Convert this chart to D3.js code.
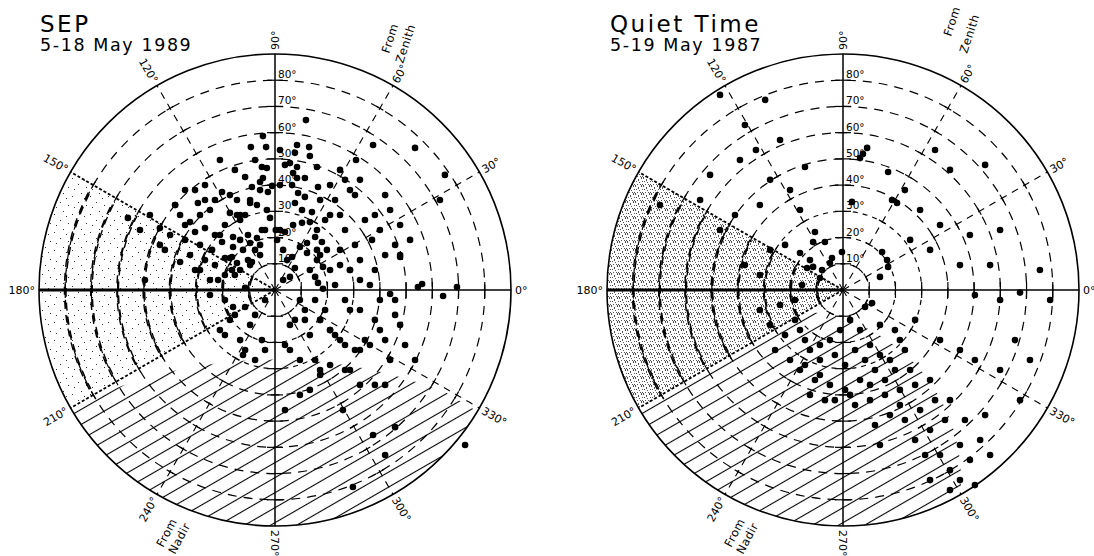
<!DOCTYPE html>
<html><head><meta charset="utf-8">
<script src="https://cdn.jsdelivr.net/npm/d3@7"></script>
<style>body{margin:0;background:#fff}svg{display:block}text{font-family:"DejaVu Sans",sans-serif;fill:#000}</style>
</head><body><svg id="c" width="1094" height="556"></svg>
<script>
// ---- data ----
const ringAngles=[10,20,30,40,50,60,70,80];
const ringLabels=["10°","20°","30°","40°","50°","60°","70°","80°"];
const spokeAngles=[0,30,60,90,120,150,180,210,240,270,300,330];
const spokeLabels=["0°","30°","60°","90°","120°","150°","180°","210°","240°","270°","300°","330°"];
const titles=["SEP","Quiet Time"];
const subtitles=["5-18 May 1989","5-19 May 1987"];
// Earth (nadir) region boundary: circle centre and radius, degree units
const nadirCX=[0,-19.5], nadirCY=[-201,-72.5], nadirR=[174.5,64.6];
// SEP points: projected offsets (deg) east/north of centre
const sepX=[11.8,-4.6,-3.4,-9.2,8.4,7.6,13.0,13.3,-5.0,-3.1,5.7,8.4,16.0,-11.4,-4.6,6.9,8.4,11.4,-1.1,-2.7,-8.8,-5.7,6.5,8.8,11.4,16.4,-14.5,-9.5,-6.9,-3.1,7.6,10.3,14.1,17.2,-17.2,-14.5,-13.3,-1.9,1.9,3.8,6.9,10.3,13.3,16.0,19.1,-16.0,-13.3,-10.3,-6.9,-5.0,0.8,12.2,15.3,17.9,-16.0,-12.2,-9.5,-5.7,3.1,6.5,9.5,12.2,16.0,19.8,-16.4,-14.5,-10.3,-7.6,4.6,7.6,16.0,18.3,-16.4,-13.3,-8.8,3.1,5.7,13.3,15.3,16.4,18.3,-11.4,-16.0,-11.4,
-34.3,-29.4,-24.8,-22.9,-20.2,-36.2,-32.4,-26.7,-22.9,-19.1,-40.0,-34.3,-28.6,-24.0,-20.2,-32.4,-26.7,-22.9,-19.1,-28.6,-24.8,-19.1,-36.2,-42.0,-43.9,-38.1,-47.7,-51.5,-56.1,-24.8,-19.1,-13.3,-12.2,-7.6,-19.1,-3.8,-7.6,-9.5,-5.0,
22.9,24.8,28.6,26.7,30.5,32.4,24.8,34.3,37.0,40.0,32.4,28.6,24.8,38.1,42.0,45.8,43.9,47.7,51.5,45.8,26.7,32.4,38.1,28.6,21.0,34.3,40.0,45.8,47.7,53.4,43.9,32.4,24.8,21.0,17.2,13.3,9.5,17.2,26.7,13.3,9.5,21.0,54.5,56.1,64.1,69.4,47.7,64.8,53.4,37.4,30.9,24.8,21.0,42.0,45.8,37.4,42.0,29.7,25.9,72.5,62.9,
-30.5,-26.7,-17.2,-13.3,-21.0,-28.6,-30.5,-17.2,-21.7,-30.5,-34.3,-38.1,-43.9,-49.6,-15.3,-9.5,-5.7,-3.8,-11.4,-9.5,-5.7,-7.6,-15.3,-21.0,-26.7,1.9,3.8,1.9,0.3,
21.0,17.2,22.9,9.5,11.4,15.3,19.1,5.7,3.8,7.6,22.9,26.7,30.5,36.2,42.0,49.6,15.3,21.0,28.6,38.1,42.0,32.4,17.2,5.7,3.8,11.4,40.0,43.9,36.2,28.6,47.7,38.1,30.5,32.4,26.7,17.2,
-15.3,-21.0,-11.4,-17.2,-3.8,-1.9];
const sepY=[64.8,58.7,54.5,54.5,55.3,52.3,54.5,51.1,46.9,46.5,48.4,46.9,46.9,43.1,42.7,44.6,42.7,42.7,39.7,37.4,39.3,41.2,40.0,37.0,35.5,39.3,34.3,33.2,32.4,30.5,33.2,30.5,29.7,34.3,29.4,28.6,26.7,27.5,22.9,22.1,24.8,25.6,25.9,22.9,26.7,20.2,19.1,21.0,19.8,22.9,19.1,17.9,20.2,18.3,16.4,15.3,17.9,17.2,15.3,12.6,16.4,14.1,15.3,15.3,12.6,10.3,11.4,15.3,11.4,8.4,11.4,8.8,7.6,7.6,10.7,3.8,5.0,7.6,5.0,2.7,0.5,0.8,-6.5,-6.5,
38.1,33.2,30.5,34.3,37.4,28.6,25.9,23.6,21.0,24.8,21.0,19.1,17.2,15.3,18.3,13.3,11.4,9.5,12.2,7.6,3.8,5.7,10.7,15.3,23.6,32.4,28.6,22.9,27.5,-1.9,-3.8,-19.1,-24.8,-26.7,-17.2,-3.8,-9.5,-13.3,-19.1,
34.3,28.6,38.1,22.9,17.2,11.4,15.3,26.7,19.1,22.9,3.8,7.6,9.5,7.6,13.3,17.2,30.5,24.8,19.1,-3.8,-3.8,-7.6,-11.4,-7.6,-15.3,-19.1,-15.3,-9.5,-13.3,-26.7,-26.7,-22.9,-19.1,-15.3,-11.4,-17.2,-26.7,-32.4,-30.5,-38.1,-40.0,7.6,1.1,2.3,-2.3,1.1,12.6,43.9,54.2,55.3,49.6,45.8,40.0,36.2,-52.3,-55.3,-62.9,-75.1,-45.8,-59.1,
34.3,38.1,40.0,36.2,28.6,21.0,28.6,22.1,12.2,3.8,7.6,24.8,32.4,17.2,3.8,5.7,9.5,13.3,22.9,28.6,34.3,38.1,49.6,45.8,49.6,34.3,40.0,47.7,53.4,
22.9,28.6,13.3,1.9,-3.8,-7.6,-3.8,-7.6,-13.3,-21.0,-11.4,-17.2,-21.0,-22.9,-21.0,-19.1,-21.0,-26.7,-28.6,-30.5,-36.2,-36.2,-36.2,-30.5,-22.9,-45.8,-11.4,-3.8,-1.5,1.9,7.6,13.3,28.6,36.2,42.0,42.0,
-11.4,-9.5,-15.3,-22.9,-11.4,-22.9];
// Quiet-time points
const quietX=[9.2,7.6,6.5,17.2,-14.5,18.7,20.6,3.4,-11.4,-10.7,-6.9,-16.4,-12.6,-13.7,-11.4,-4.2,-5.0,-8.0,-0.4,14.9,16.8,17.2,14.1,-15.6,-8.8,8.4,11.1,
-46.9,-37.4,-29.7,-39.3,-33.2,-24.0,-50.7,-54.5,-69.8,-46.9,-41.2,-31.7,-27.8,-20.2,-16.4,-37.4,-31.7,-27.8,-22.1,-18.3,-24.0,-31.7,
35.1,40.8,54.2,23.6,29.4,37.0,48.4,59.9,56.1,44.6,33.2,25.6,67.5,75.1,79.0,59.9,50.3,
-16.4,-12.6,-8.8,-5.0,2.7,6.5,10.3,14.1,19.8,23.6,17.9,12.2,6.5,0.8,-5.0,-10.7,-16.4,-20.2,-25.9,-12.6,-6.9,4.6,10.3,16.0,21.7,27.5,33.2,29.4,23.6,17.9,12.2,27.5,33.2,38.9,37.0,40.8,44.6,48.4,52.3,46.5,54.2,56.1,40.8,33.2,14.1,37.0,44.6,50.3,59.9,67.5,71.3,65.6,
-18.3,-14.5,-8.8,-3.1,0.8,4.6,-1.1,8.4,14.1,19.8,25.6,16.0,10.3,2.7,-3.1,-8.8,-14.5,-22.1,-27.8,21.7,35.1,40.8,31.3,44.6,50.3,21.7,27.5];
const quietY=[54.2,51.9,50.3,45.0,46.9,34.3,33.2,33.6,18.3,22.1,18.3,14.1,11.4,8.4,8.8,12.2,10.3,7.6,14.5,14.5,11.4,8.8,5.0,1.9,4.6,-6.5,-5.0,
74.4,62.9,72.5,49.6,53.4,57.2,43.9,34.3,32.4,22.9,28.6,32.4,42.0,38.1,30.5,9.5,5.7,15.3,17.2,-3.8,-5.7,-7.6,
53.4,45.8,47.7,38.1,30.5,24.8,21.0,22.9,9.5,9.5,15.3,19.1,-1.0,7.6,-3.8,-3.8,-1.9,
-15.3,-22.9,-26.7,-19.1,-11.4,-15.3,-21.0,-13.3,-15.3,-22.9,-26.7,-30.5,-34.3,-38.1,-36.2,-34.3,-30.5,-26.7,-22.9,-40.0,-42.0,-43.9,-42.0,-40.0,-38.1,-36.2,-34.3,-45.8,-49.6,-47.7,-51.5,-57.2,-53.4,-49.6,-62.9,-68.7,-59.1,-64.8,-57.2,-49.6,-47.7,-62.9,-76.3,-72.5,-59.1,-19.1,-22.9,-26.7,-30.5,-42.0,-26.7,-19.1,
-11.4,-19.1,-21.0,-24.8,-28.6,-22.9,-15.3,-26.7,-24.8,-30.5,-30.5,-34.3,-36.2,-40.0,-42.0,-32.4,-28.6,-17.2,-13.3,-43.9,-42.0,-42.0,-62.9,-72.5,-74.4,-19.1,-11.4];

// ---- drawing ----
const svg=d3.select("#c");
const R=236;
const centres=[[275,290],[843,290]];
const rS=d3.scaleLinear().domain([0,90]).range([0,R]);
const xS=d3.scaleLinear().domain([-90,90]).range([-R,R]);
const yS=d3.scaleLinear().domain([-90,90]).range([R,-R]);
const rad=Math.PI/180;
const P=(th,d)=>[rS(d)*Math.cos(th*rad),-rS(d)*Math.sin(th*rad)];

const defs=svg.append("defs");
const hp=defs.append("pattern").attr("id","hatch").attr("patternUnits","userSpaceOnUse")
  .attr("width",30).attr("height",13).attr("patternTransform","rotate(-30)");
hp.append("line").attr("x1",0).attr("x2",30).attr("y1",6.5).attr("y2",6.5).attr("stroke","#000").attr("stroke-width",1.1);
// stipple textures
const stipA=[[1,2],[9,5],[4,11],[13,14],[15,7],[7,16]];
const stipB=[[0,0],[3,1],[6,0],[1,3],[4,4],[7,3],[2,6],[5,6],[0,7],[6,7],[3,2],[7,6]];
[[stipA,18,"#333"],[stipB,8,"#555"]].forEach(([pts,s,c],i)=>{
  const p=defs.append("pattern").attr("id","stip"+i).attr("patternUnits","userSpaceOnUse").attr("width",s).attr("height",s);
  pts.forEach(q=>p.append("rect").attr("x",q[0]).attr("y",q[1]).attr("width",1).attr("height",1).attr("fill",c));
});
defs.append("clipPath").attr("id","rim").append("circle").attr("r",R);
const s210=P(210,90);
defs.append("clipPath").attr("id","below210").append("path")
  .attr("d",`M${s210[0]*3},${s210[1]*3} L0,0 L${R*2},${R*1.2} L${R*2},${R*2} L${-R*2},${R*2}Z`);
[0,1].forEach(i=>defs.append("clipPath").attr("id","nadir"+i).append("circle")
  .attr("cx",xS(nadirCX[i])).attr("cy",yS(nadirCY[i])).attr("r",rS(nadirR[i])));

function drawPanel(i){
  const [cx,cy]=centres[i];
  const g=svg.append("g").attr("transform",`translate(${cx},${cy})`);
  const arc=d3.arc();
  g.append("path").attr("d",arc({innerRadius:0,outerRadius:R,startAngle:(90-210)*rad,endAngle:(90-150)*rad}))
    .attr("fill",`url(#stip${i})`);
  g.append("g").attr("clip-path","url(#rim)").append("g").attr("clip-path","url(#below210)")
    .append("g").attr("clip-path",`url(#nadir${i})`)
    .append("rect").attr("x",-R).attr("y",-R).attr("width",2*R).attr("height",2*R).attr("fill","url(#hatch)");
  g.selectAll(".ring").data(ringAngles).join("circle").attr("r",d=>rS(d)).attr("fill","none")
    .attr("stroke","#000").attr("stroke-width",1.2).attr("stroke-dasharray",d=>d<=30?"5,5":"9,7");
  ringAngles.forEach(d=>g.append("path").attr("d",arc({innerRadius:rS(d)-0.8,outerRadius:rS(d)+0.8,startAngle:(90-208)*rad,endAngle:(90-152)*rad}))
    .attr("fill","none").attr("stroke","#000").attr("stroke-width",1.4).attr("stroke-dasharray","8,6"));
  spokeAngles.forEach(a=>{
    const axis=a%90===0;
    const [x2,y2]=P(a,90);
    g.append("line").attr("x1",0).attr("y1",0).attr("x2",x2).attr("y2",y2).attr("stroke","#000")
      .attr("stroke-width",axis?(a===180?2.8:1.5):(a===150||a===210?2:1.1))
      .attr("stroke-dasharray",axis?null:(a===150||a===210?"3,2":"7,6"));
    ringAngles.forEach(d=>{
      const [px,py]=P(a,d);const L=axis?8:4;
      const ux=-Math.sin(a*rad),uy=-Math.cos(a*rad);
      g.append("line").attr("x1",px-ux*L).attr("y1",py-uy*L).attr("x2",px+ux*L).attr("y2",py+uy*L)
        .attr("stroke","#000").attr("stroke-width",1.2);
    });
    const [lx,ly]=P(a,90+1.5);
    const right=Math.cos(a*rad)>1e-6||a===90||a===270;
    g.append("text").attr("transform",`translate(${lx},${ly}) rotate(${right?-a:180-a})`)
      .attr("text-anchor",right?"start":"end").attr("dy","0.35em").attr("font-size",11)
      .text(spokeLabels[spokeAngles.indexOf(a)]);
  });
  g.append("circle").attr("r",R).attr("fill","none").attr("stroke","#000").attr("stroke-width",1.6);
  ringAngles.forEach((d,k)=>g.append("text").attr("x",3).attr("y",-rS(d)-2).attr("font-size",10.5).text(ringLabels[k]));
  const xs=i===0?sepX:quietX, ys=i===0?sepY:quietY;
  g.selectAll(".pt").data(d3.zip(xs,ys)).join("circle").attr("cx",d=>xS(d[0])).attr("cy",d=>yS(d[1]))
    .attr("r",3.3).attr("fill","#000");
  svg.append("text").attr("x",i===0?40:610).attr("y",32).attr("font-size",23).attr("letter-spacing",2.5).text(titles[i]);
  svg.append("text").attr("x",i===0?40:610).attr("y",51).attr("font-size",17.5).attr("letter-spacing",1.6).text(subtitles[i]);
  const zen=i===0?[[114,-236],[128,-226]]:[[108,-253],[124,-236]];
  [["From",zen[0]],["Zenith",zen[1]]].forEach(([t,p])=>g.append("text")
    .attr("transform",`translate(${p[0]},${p[1]}) rotate(-72)`).attr("font-size",11.5).attr("letter-spacing",0.5).text(t));
  [["From",[-112,258]],["Nadir",[-100,265]]].forEach(([t,p])=>g.append("text")
    .attr("transform",`translate(${p[0]},${p[1]}) rotate(-62)`).attr("font-size",11.5).attr("letter-spacing",0.5).text(t));
}
drawPanel(0);drawPanel(1);
</script></body></html>
